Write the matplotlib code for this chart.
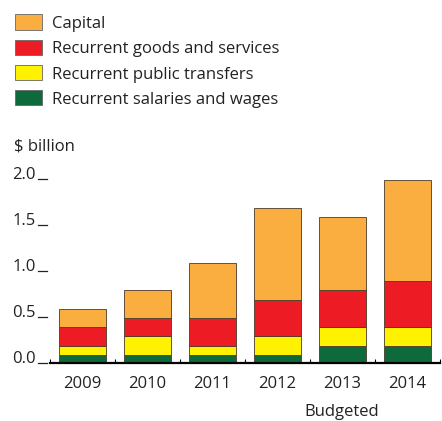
import numpy as np
import matplotlib
matplotlib.use("Agg")
import matplotlib.pyplot as plt
from matplotlib.patches import Rectangle

plt.rcParams['font.family'] = ['Open Sans', 'DejaVu Sans']

# Datos ($ billion)
years     = ["2009", "2010", "2011", "2012", "2013", "2014"]
salaries  = [0.09, 0.09, 0.09, 0.09, 0.19, 0.19]
transfers = [0.10, 0.20, 0.10, 0.20, 0.20, 0.20]
goods     = [0.20, 0.20, 0.30, 0.40, 0.40, 0.50]
capital   = [0.20, 0.30, 0.60, 1.00, 0.80, 1.10]

series = [
    ("Recurrent salaries and wages", salaries, "#0f6a3b"),
    ("Recurrent public transfers", transfers, "#fff200"),
    ("Recurrent goods and services", goods, "#ed1c24"),
    ("Capital", capital, "#fbae40"),
]

FS = 12
TXT = "#222222"
W, H = 442, 421
fig = plt.figure(figsize=(W / 100, H / 100), dpi=100)
# ejes: x de 50 a 440 px, y de 363 (0.0) a 179 (2.0)
ax = fig.add_axes([50 / W, 1 - 363 / H, 390 / W, (363 - 179) / H])

x = np.arange(len(years))
bottom = np.zeros(len(years))
for name, vals, col in series:
    ax.bar(x, vals, width=0.71, bottom=bottom, color=col,
           edgecolor="#4a3a2a", linewidth=0.6, zorder=2)
    bottom += np.array(vals)

ax.set_xlim(-0.5, len(years) - 0.5)
ax.set_ylim(0, 2.0)

for s in ["top", "right", "left"]:
    ax.spines[s].set_visible(False)
ax.spines["bottom"].set_linewidth(1.6)
ax.spines["bottom"].set_zorder(3)

# marcas del eje x en los límites entre categorías
ax.set_xticks(np.arange(-0.5, len(years) + 0.5, 1.0), minor=True)
ax.tick_params(axis="x", which="minor", direction="in", length=3, width=0.8)
ax.set_xticks(x)
ax.set_xticklabels(years, fontsize=FS, color=TXT)
ax.tick_params(axis="x", which="major", length=0, pad=9.5)

yt = [0.0, 0.5, 1.0, 1.5, 2.0]
ax.set_yticks(yt)
ax.set_yticklabels([f"{v:.1f}" for v in yt], fontsize=FS, color=TXT)
ax.tick_params(axis="y", length=0, pad=10)
for lab in ax.get_yticklabels():
    lab.set_verticalalignment("baseline")
# pequeño guion junto a cada etiqueta del eje y
for yv in yt:
    ax.plot([-0.5 - 12 / 65, -0.5 - 3 / 65], [yv, yv], color=TXT,
            linewidth=0.9, clip_on=False)

fig.text(14 / W, 1 - 147 / H, "$ billion", fontsize=FS, color=TXT, va="center")
fig.text(342 / W, 1 - 412 / H, "Budgeted", fontsize=FS, color=TXT,
         ha="center", va="center")

# leyenda dibujada a mano
for i, (name, vals, col) in enumerate(series[::-1]):
    yc = 22 + 25.3 * i
    fig.patches.append(Rectangle((15 / W, 1 - (yc + 7.5) / H), 27 / W, 15 / H,
                                 facecolor=col, edgecolor="#666666", linewidth=0.6,
                                 transform=fig.transFigure, figure=fig))
    fig.text(52 / W, 1 - (yc + 2) / H, name, fontsize=FS, color=TXT, va="center")

fig.savefig("out.png", dpi=100)
